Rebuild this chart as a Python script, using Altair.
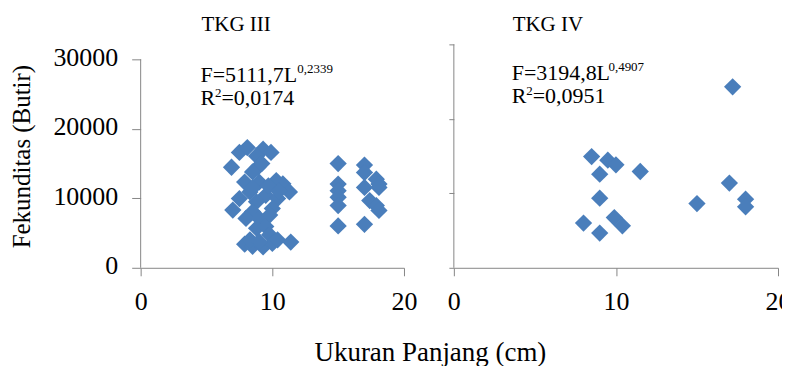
import altair as alt
import pandas as pd

# TKG III data (length cm, fecundity eggs)
l3 = [7.5, 8.1, 9.3, 9.9, 8.8, 6.9, 8.9, 8.5, 9.2,
      7.9, 9.0, 10.3, 10.8, 11.3, 8.3, 9.5, 7.5, 8.8, 10.4, 10.0, 8.5, 9.7, 10.5,
      7.0, 8.5, 8.0, 9.0, 9.8,
      8.8, 9.5, 9.8,
      7.9, 8.5, 9.3, 10.0, 8.3, 10.4, 9.0, 11.4,
      15.0, 15.0, 15.0, 15.0, 15.0, 15.0,
      17.0, 17.0, 17.9, 18.1, 17.0, 18.1, 17.4, 17.9, 18.1, 17.0]
f3 = [16600, 17300, 17070, 16600, 16100, 14470, 14470, 13800, 15000,
      12330, 12330, 12560, 12090, 10910, 10910, 10430, 9960, 9490, 9960, 8530, 11500, 11800, 11000,
      8300, 8060, 7110, 7110, 7580,
      5690, 5930, 4740,
      3400, 3100, 3000, 3500, 4030, 4030, 3800, 3700,
      15000, 12050, 11100, 10150, 8960, 6020,
      14790, 13700, 12760, 12050, 11570, 11570, 9670, 8960, 8250, 6260]

# TKG IV data
l4 = [17.2, 8.5, 9.5, 10.0, 9.0, 11.5, 9.0, 8.0, 9.0, 9.9, 10.4, 15.0, 17.0, 18.0, 18.0]
f4 = [24300, 14940, 14450, 13830, 12570, 12930, 9350, 6000, 4660, 6750, 5640, 8630, 11370, 9220, 8190]

x_ticks = [0, 10, 20]
y_ticks = [0, 10000, 20000, 30000]

FONT = "Liberation Serif"
BLUE = "#4A7EBB"
GRAY = "#868686"
H = 224

d3 = pd.DataFrame({"L": l3, "F": f3})
d4 = pd.DataFrame({"L": l4, "F": f4})


def txt(s, x, y, size):
    return alt.Chart(pd.DataFrame({"t": [s]})).mark_text(
        font=FONT, fontSize=size, align="left", baseline="alphabetic", color="black"
    ).encode(text="t:N", x=alt.value(x), y=alt.value(y))


def panel(df, ymax, title, tx, ylabels, eq, sup, rval):
    xax = alt.Axis(values=x_ticks, grid=False, domainColor=GRAY, tickColor=GRAY,
                   tickSize=8, labelFont=FONT, labelFontSize=26, labelColor="black",
                   labelPadding=13, labelFlush=False, title=None)
    if ylabels:
        yax = alt.Axis(values=y_ticks, grid=False, domain=False, tickColor=GRAY,
                       tickSize=9, labelFont=FONT, labelFontSize=26, labelColor="black",
                       labelPadding=14, labelFlush=False, labelOffset=-2, format="d",
                       title="Fekunditas (Butir)",
                       titleFont=FONT, titleFontSize=25, titleFontWeight="normal",
                       titleColor="black", titlePadding=18)
    else:
        yax = alt.Axis(values=y_ticks, grid=False, domain=False, tickColor=GRAY,
                       tickSize=5, labels=False, title=None)
    xs = alt.Scale(domain=[0, 20], nice=False)
    ys = alt.Scale(domain=[0, ymax], nice=False)
    pts = alt.Chart(df).mark_point(shape="diamond", filled=True, size=300,
                                   color=BLUE, opacity=1).encode(
        x=alt.X("L:Q", scale=xs, axis=xax),
        y=alt.Y("F:Q", scale=ys, axis=yax),
    )
    axis_line = alt.Chart(pd.DataFrame({"L": [x_ticks[0]], "F": [y_ticks[0]],
                                        "F2": [y_ticks[-1]]})).mark_rule(
        color=GRAY, strokeWidth=1).encode(
        x=alt.X("L:Q", scale=xs), y=alt.Y("F:Q", scale=ys), y2="F2:Q")
    ex, ey = eq[1], eq[2]
    layers = [
        axis_line,
        pts,
        txt(title, tx, -13, 21),
        txt(eq[0], ex, ey, 22),
        txt(sup, ex + 97, ey - 9, 13),
        txt("R", ex, ey + 23, 22),
        txt("2", ex + 14.5, ey + 15, 13),
        txt(rval, ex + 21, ey + 23, 22),
    ]
    return alt.layer(*layers).properties(height=H)


left = panel(d3, 32153, "TKG III", 61, True,
             ("F=5111,7L", 60, 38), "0,2339", "=0,0174").properties(width=264)
right = panel(d4, 30000, "TKG IV", 59, False,
              ("F=3194,8L", 58, 36), "0,4907", "=0,0951").properties(width=325)

chart = alt.hconcat(left, right, spacing=30).properties(
    padding={"left": 2, "top": 6, "right": -9, "bottom": 0},
    title=alt.TitleParams("Ukuran Panjang (cm)", orient="bottom", anchor="middle",
                          font=FONT, fontSize=27, fontWeight="normal", color="black",
                          offset=25, dx=30),
).configure_view(stroke=None).configure_concat(spacing=30)

chart.save("out.html", embed_options={"renderer": "svg", "actions": False})
